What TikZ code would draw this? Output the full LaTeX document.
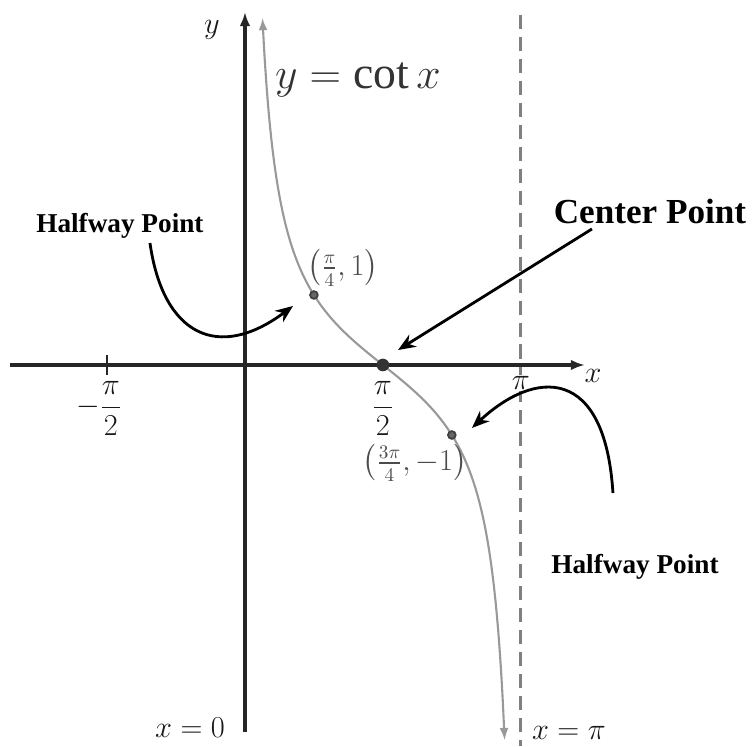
\documentclass[tikz,border=0pt]{standalone}
\usepackage{amsmath}
\usepackage{fontspec}
\setmainfont{Liberation Serif}
\usetikzlibrary{arrows.meta}

\tikzset{
  axis/.style={line width=1.9pt, black!85, -{Latex[length=8pt,width=6pt]}},
  curve/.style={line width=1.2pt, black!40, {Latex[length=7pt,width=5pt]}-{Latex[length=7pt,width=5pt]}},
  asym/.style={line width=1.6pt, black!50, dash pattern=on 8pt off 4.5pt},
  pointer/.style={line width=1.6pt, ->},
  biglabel/.style={font=\fontsize{20}{24}\selectfont\bfseries},
  smalllabel/.style={font=\fontsize{15.5}{18}\selectfont\bfseries},
  mathlabel/.style={font=\fontsize{16}{19}\selectfont, black!90},
  ptlabel/.style={font=\fontsize{16}{19}\selectfont, black!70},
}

\begin{document}
\begin{tikzpicture}[x=1.756cm, y=1.4cm, >={Stealth[length=10pt,width=8pt]}]
        \useasboundingbox (-2.790,-5.443) rectangle (5.786,5.214);

        % Asymptote x = pi
        \draw[asym] (pi,5.0) -- (pi,-5.443);

        % Axes
        \coordinate (xl) at (-2.677,0);
        \coordinate (xr) at (3.872,0);
        \coordinate (yb) at (0,-5.243);
        \coordinate (yt) at (0,5.043);
        \draw[axis] (xl) -- (xr);
        \draw[axis] (yb) -- (yt);
        \draw[line width=1.4pt, black!85] (-pi/2,0.14) -- (-pi/2,-0.14);

        % The cotangent branch
        \draw[curve] plot[domain=0.199:2.959, samples=120, smooth] (\x, {cos(\x r)/sin(\x r)});

        % Axis and tick labels
        \node[mathlabel] (ylbl) at (-0.376,4.786) {$y$};
        \node[mathlabel] (xlbl) at (3.964,-0.157) {$x$};
        \node[mathlabel, fill=white, inner sep=1pt] (pilbl) at (pi,-0.26) {$\pi$};
        \node[mathlabel] (halfpi) at (pi/2,-0.62) {$\dfrac{\pi}{2}$};
        \node[mathlabel] (mhalfpi) at (-pi/2-0.09,-0.62) {$-\dfrac{\pi}{2}$};
        \node[font=\fontsize{26}{31}\selectfont, black!80] (title) at (1.287,4.07) {$y=\cot x$};
        \node[mathlabel] (x0) at (-0.626,-5.186) {$x=0$};
        \node[mathlabel, anchor=west] (xpi) at (3.20,-5.257) {$x=\pi$};

        % Marked points
        \coordinate (qpt) at (pi/4,1);
        \coordinate (cpt) at (pi/2,0);
        \coordinate (tpt) at (3*pi/4,-1);
        \filldraw[black!75, fill=black!60, line width=1pt] (qpt) circle (2.2pt);
        \filldraw[black!75, fill=black!60, line width=1pt] (tpt) circle (2.2pt);
        \fill[black!80] (cpt) circle (3.6pt);
        \node[ptlabel] (qlbl) at (1.116,1.386) {$\left(\frac{\pi}{4},1\right)$};
        \node[ptlabel] (tlbl) at (1.936,-1.4) {$\left(\frac{3\pi}{4},-1\right)$};

        % Callouts
        \node[biglabel] (center) at (4.613,2.186) {Center Point};
        \node[smalllabel] (halfl) at (-1.424,1.986) {Halfway Point};
        \node[smalllabel] (halfr) at (4.442,-2.886) {Halfway Point};
        \coordinate (cstart) at (3.952,1.943);
        \coordinate (lstart) at (-1.082,1.743);
        \coordinate (rstart) at (4.191,-1.829);
        \coordinate (ctip) at (1.743,0.214);
        \coordinate (qtip) at (0.547,0.843);
        \coordinate (ttip) at (2.585,-0.9);
        \draw[pointer] (cstart) -- (ctip);
        \draw[pointer] (lstart) .. controls (-0.934,0.429) and (-0.308,0.043) .. (qtip);
        \draw[pointer] (rstart) .. controls (4.100,0.0) and (3.303,-0.06) .. (ttip);
\end{tikzpicture}
\end{document}
